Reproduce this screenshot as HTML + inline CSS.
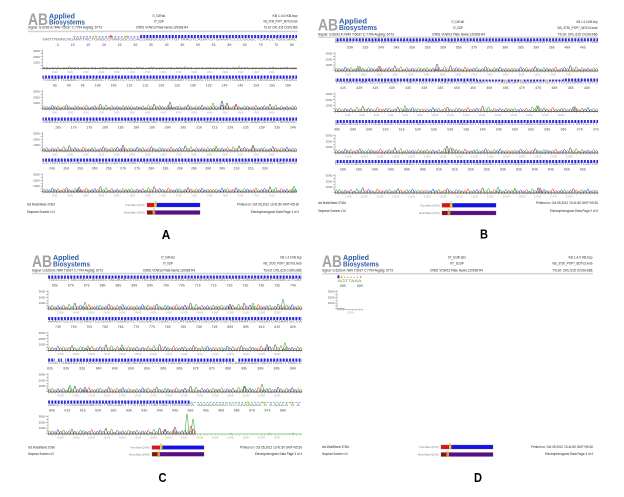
<!DOCTYPE html>
<html><head><meta charset="utf-8">
<style>
html,body{margin:0;padding:0;background:#fff;width:624px;height:497px;overflow:hidden}
svg{display:block}
text{font-family:"Liberation Sans",sans-serif}
.h{font-size:3.3px;fill:#222}
.e{text-anchor:end}
.c{text-anchor:middle}
.logo{font-size:16.5px;font-weight:bold;fill:#a3a3a3}
.ap{font-size:7px;font-weight:bold;fill:#2d5ca8}
.sq{font-size:3.4px;fill:#676767}
.nm{font-family:"Liberation Mono",monospace;font-size:3.3px;fill:#4a4a4a}
.yl{font-size:3px;fill:#555;text-anchor:end}
.tk{font-family:"Liberation Mono",monospace;font-size:2.3px;fill:#a8a8a8}
.qv{font-size:2.4px;fill:#777;text-anchor:end}
.sm{font-size:2px;fill:#777;text-anchor:middle}
.ax{stroke:#666;stroke-width:.35;fill:none}
.yt{stroke:#666;stroke-width:2;stroke-dasharray:.35 2.55;fill:none}
.xt{stroke:#888;stroke-width:1.2;stroke-dasharray:.35 3.2;fill:none}
.tp{fill:none;stroke-width:.5;vector-effect:non-scaling-stroke}
.g{stroke:#1f9a1f}.r{stroke:#e02020}.b{stroke:#2020e0}.k{stroke:#333}
.lab{font-size:13px;font-weight:bold;fill:#000;text-anchor:middle}
.ol{fill:none;stroke:#666;stroke-width:.3}
</style></head>
<body>
<svg width="624" height="497" viewBox="0 0 624 497" xmlns="http://www.w3.org/2000/svg">
<defs>
<pattern id="qb" width="3.17" height="20" patternUnits="userSpaceOnUse"><rect x=".6" width="1.9" height="20" fill="#1f1fe8"/></pattern>
<pattern id="qs" width="3.17" height="20" patternUnits="userSpaceOnUse"><rect x=".6" width="1.5" height="20" fill="#8a8af0"/></pattern>
<g id="tr">
<path class="tp k" d="M0,13 Q1.7,7 3.4,13 L20,13 Q21.7,9 23.4,13 L30,13 Q31.7,1 33.4,13 L40,13 Q41.7,7 43.4,13 L53.3,13 Q55,8 56.7,13 L70,13 Q71.7,3 73.4,13 L83.3,13 Q85,7 86.7,13 L100,13"/>
<path class="tp b" d="M0,13 L10,13 Q11.7,6 13.4,13 Q15,8 16.7,13 L36.6,13 Q38.3,5 40,13 L56.6,13 Q58.3,6 60,13 L66.6,13 Q68.3,7 70,13 L86.6,13 Q88.3,4 90,13 Q91.7,8 93.4,13 L100,13"/>
<path class="tp r" d="M0,13 L6.6,13 Q8.3,8 10,13 L16.6,13 Q18.3,5 20,13 L33.3,13 Q35,7 36.7,13 L46.6,13 Q48.3,4 50,13 Q51.7,7 53.4,13 L73.3,13 Q75,6 76.7,13 Q78.3,8 80,13 L96.6,13 Q98.3,7 100,13"/>
<path class="tp g" d="M0,13 L3.3,13 Q5,5 6.7,13 L23.3,13 Q25,3 26.7,13 Q28.3,7 30,13 L43.3,13 Q45,8 46.7,13 L60,13 Q61.7,5 63.4,13 Q65,8 66.7,13 L80,13 Q81.7,5 83.4,13 L93.3,13 Q95,6 96.7,13 L100,13"/>
</g>
<g id="tri"><use href="#tr"/><use href="#tr" transform="translate(200,0) scale(-1,1)"/><use href="#tr" transform="translate(200,0)"/></g>
<g id="trj"><use href="#tr" transform="translate(100,0) scale(-1,1)"/><use href="#tr" transform="translate(100,0)"/><use href="#tr" transform="translate(300,0) scale(-1,1)"/></g>
<clipPath id="cl4"><rect x="48" y="395" width="148" height="45"/></clipPath>
</defs>

<!-- ================= PANEL A ================= -->
<text class="logo" x="28" y="25" textLength="20" lengthAdjust="spacingAndGlyphs">AB</text>
<text class="ap" x="49" y="18.3" textLength="26" lengthAdjust="spacingAndGlyphs">Applied</text>
<text class="ap" x="49" y="24.6" textLength="36" lengthAdjust="spacingAndGlyphs">Biosystems</text>
<text class="h c" x="159" y="17" textLength="13" lengthAdjust="spacingAndGlyphs">07_S10F.ab1</text>
<text class="h c" x="159" y="22.5" textLength="10" lengthAdjust="spacingAndGlyphs">07_S10F</text>
<text class="h c" x="162" y="28.4" textLength="52" lengthAdjust="spacingAndGlyphs">CW51  VOW13  Plate Name:120928-R4</text>
<text class="h e" x="297.5" y="17" textLength="25" lengthAdjust="spacingAndGlyphs">KB 1.4.0  KB.bcp</text>
<text class="h e" x="297.5" y="22.5" textLength="34" lengthAdjust="spacingAndGlyphs">KB_3730_POP7_BDTv3.mob</text>
<text class="h e" x="297.5" y="28.4" textLength="34" lengthAdjust="spacingAndGlyphs">TS.txt: CRL.615  Cr/20v.666</text>
<text class="h" x="28" y="28.4" textLength="74" lengthAdjust="spacingAndGlyphs">Signal: G:6293 A:7849 T:6037 C:7794 AvgSig: 6773</text>
<rect x="28" y="30.6" width="270" height="1.6" fill="#d4d4d4"/>

<!-- A row 1 b=68.5 -->
<rect x="72" y="36" width="68" height="1.6" fill="url(#qs)"/>
<rect x="95" y="35.3" width="1.6" height="2.3" fill="#f0d000"/><rect x="110" y="35.3" width="1.6" height="2.3" fill="#e04040"/><rect x="126" y="35.3" width="1.6" height="2.3" fill="#f0d000"/>
<rect x="140" y="35" width="157" height="3" fill="url(#qb)"/>
<text class="sq" x="42.5" y="40.7" textLength="254.5" lengthAdjust="spacingAndGlyphs">NNTTNNNCNGNATTNCTGNGCGTANGGCGCACGNGGCGGTTTGTTAAGTCAGATGTGAAATCCCCGGGCTCAACCTGGGAAC</text>
<text class="nm" x="57" y="46" style="word-spacing:9.73px">5 10 15 20 25 30 35 40 45 50 55 60 65 70 75 80</text>
<text class="yl" x="39.8" y="52.2">3000</text><text class="yl" x="39.8" y="57.9">2000</text><text class="yl" x="39.8" y="63.7">1000</text>
<line class="yt" x1="41.5" y1="68.5" x2="41.5" y2="49.5"/><line class="ax" x1="42.5" y1="49.5" x2="42.5" y2="68.5"/>
<line class="xt" x1="42.5" y1="69.5" x2="297" y2="69.5"/>
<text class="tk" x="52" y="72.8" style="word-spacing:8.6px">1900 2000 2100 2200 2300 2400 2500 2600 2700 2800 2900 3000 3100 3200 3300</text>
<use href="#tri" transform="translate(42.5,68.5) scale(0.848,0.3) translate(0,-13)"/>

<!-- A row 2 b=109 -->
<rect x="42.5" y="75.5" width="254.5" height="3" fill="url(#qb)"/>
<text class="sq" x="42.5" y="81.2" textLength="254.5" lengthAdjust="spacingAndGlyphs">TGCATTTGAAACTGGCAAGCTTGAGTCTCGTAGAGGGGGGTAGAATTCCAGGTGTAGCGGTGAAATGCGTAGAGATCTGGAG</text>
<text class="nm" x="53" y="86.5" style="word-spacing:7.95px">85 90 95 100 105 110 115 120 125 130 135 140 145 150 155 160</text>
<text class="yl" x="39.8" y="92.7">3000</text><text class="yl" x="39.8" y="98.4">2000</text><text class="yl" x="39.8" y="104.2">1000</text>
<line class="yt" x1="41.5" y1="109" x2="41.5" y2="90"/><line class="ax" x1="42.5" y1="90" x2="42.5" y2="109"/>
<line class="xt" x1="42.5" y1="110" x2="297" y2="110"/>
<text class="tk" x="52" y="113.3" style="word-spacing:8.6px">3400 3500 3600 3700 3800 3900 4000 4100 4200 4300 4400 4500 4600 4700 4800</text>
<use href="#trj" transform="translate(42.5,109) scale(0.848,0.85) translate(0,-13)"/>
<path class="tp k" d="M168.4,109 Q170,95 171.6,109 M220.4,109 Q222,93 223.6,109 M225.4,109 Q227,97 228.6,109"/>
<path class="tp g" d="M211.4,109 Q213,97 214.6,109"/>
<path class="tp r" d="M234.4,109 Q236,99 237.6,109"/>

<!-- A row 3 b=151 -->
<rect x="42.5" y="117.5" width="254.5" height="3" fill="url(#qb)"/>
<text class="sq" x="42.5" y="123.2" textLength="254.5" lengthAdjust="spacingAndGlyphs">GAATACCGGTGGCGAAGGCGGCCCCCTGGACGAAGACTGACGCTCAGGTGCGAAAGCGTGGGGAGCAAACAGGATTAGATAC</text>
<text class="nm" x="55" y="128.5" style="word-spacing:7.75px">165 170 175 180 185 190 195 200 205 210 215 220 225 230 235 240</text>
<text class="yl" x="39.8" y="134.7">3000</text><text class="yl" x="39.8" y="140.4">2000</text><text class="yl" x="39.8" y="146.2">1000</text>
<line class="yt" x1="41.5" y1="151" x2="41.5" y2="132"/><line class="ax" x1="42.5" y1="132" x2="42.5" y2="151"/>
<line class="xt" x1="42.5" y1="152" x2="297" y2="152"/>
<text class="tk" x="52" y="155.3" style="word-spacing:8.6px">4900 5000 5100 5200 5300 5400 5500 5600 5700 5800 5900 6000 6100 6200 6300</text>
<use href="#tri" transform="translate(42.5,151) scale(0.848,0.9) translate(0,-13)"/>
<path class="tp k" d="M121.4,151 Q123,139 124.6,151 M251.4,151 Q253,139 254.6,151"/>
<path class="tp g" d="M214.4,151 Q216,141 217.6,151"/>

<!-- A row 4 b=192 -->
<rect x="42.5" y="158.5" width="254.5" height="3" fill="url(#qb)"/>
<text class="sq" x="42.5" y="164.2" textLength="254.5" lengthAdjust="spacingAndGlyphs">CCTGGTAGTCCACGCCGTAAACGATGTCGACTTGGAGGTTGTGCCCTTGAGGCGTGGCTTCCGGAGCTAACGCGTTAAGTCG</text>
<text class="nm" x="49" y="169.5" style="word-spacing:6.28px">245 250 255 260 265 270 275 280 285 290 295 300 305 310 315 320</text>
<text class="yl" x="39.8" y="175.7">3000</text><text class="yl" x="39.8" y="181.4">2000</text><text class="yl" x="39.8" y="187.2">1000</text>
<line class="yt" x1="41.5" y1="192" x2="41.5" y2="173"/><line class="ax" x1="42.5" y1="173" x2="42.5" y2="192"/>
<line class="xt" x1="42.5" y1="193" x2="297" y2="193"/>
<text class="tk" x="52" y="196.3" style="word-spacing:8.6px">6400 6500 6600 6700 6800 6900 7000 7100 7200 7300 7400 7500 7600 7700 7800</text>
<use href="#trj" transform="translate(42.5,192) scale(0.848,0.9) translate(0,-13)"/>
<path class="tp k" d="M77.4,192 Q79,182 80.6,192"/>
<path class="tp g" d="M292.4,192 Q294,180 295.6,192"/>

<!-- A footer -->
<text class="h" x="27" y="205.3" textLength="28" lengthAdjust="spacingAndGlyphs">Inst Model/Name 3730xl</text>
<text class="h" x="27" y="212.8" textLength="28" lengthAdjust="spacingAndGlyphs">Sequence Scanner v1.0</text>
<text class="qv" x="144.5" y="206.2">Pure Base QV(%)</text>
<text class="qv" x="144.5" y="213.7">Mixed Base QV(%)</text>
<text class="sm" x="155.5" y="202.4">20</text>
<rect x="147" y="203" width="7.3" height="4" fill="#e81010"/><rect x="154.3" y="203" width="2.4" height="4" fill="#f5d000"/><rect x="156.7" y="203" width="43.3" height="4" fill="#1212ee"/><rect class="ol" x="147" y="203" width="53" height="4"/>
<text class="sm" x="153.9" y="209.9">14</text>
<rect x="147" y="210.5" width="5.7" height="4" fill="#8a0f0f"/><rect x="152.7" y="210.5" width="2.4" height="4" fill="#e09a18"/><rect x="155.1" y="210.5" width="44.9" height="4" fill="#5a0c8c"/><rect class="ol" x="147" y="210.5" width="53" height="4"/>
<text class="h e" x="299" y="205.3" textLength="62" lengthAdjust="spacingAndGlyphs">Printed on: Oct 05,2012 13:41:50 GMT+05:30</text>
<text class="h e" x="299" y="212.8" textLength="48" lengthAdjust="spacingAndGlyphs">Electropherogram Data Page 1 of 4</text>
<text class="lab" x="166" y="239" textLength="8.5" lengthAdjust="spacingAndGlyphs">A</text>

<!-- ================= PANEL B ================= -->
<text class="logo" x="318" y="30.3" textLength="20" lengthAdjust="spacingAndGlyphs">AB</text>
<text class="ap" x="339" y="23.6" textLength="28" lengthAdjust="spacingAndGlyphs">Applied</text>
<text class="ap" x="339" y="29.9" textLength="38" lengthAdjust="spacingAndGlyphs">Biosystems</text>
<text class="h c" x="458" y="23" textLength="13" lengthAdjust="spacingAndGlyphs">07_S10F.ab1</text>
<text class="h c" x="458" y="29" textLength="10" lengthAdjust="spacingAndGlyphs">07_S10F</text>
<text class="h c" x="458.5" y="35.3" textLength="53" lengthAdjust="spacingAndGlyphs">CW51  VOW13  Plate Name:120928-R4</text>
<text class="h e" x="597.5" y="23" textLength="21" lengthAdjust="spacingAndGlyphs">KB 1.4.0  KB.bcp</text>
<text class="h e" x="597.5" y="29" textLength="40" lengthAdjust="spacingAndGlyphs">KB_3730_POP7_BDTv3.mob</text>
<text class="h e" x="597.5" y="35.3" textLength="40" lengthAdjust="spacingAndGlyphs">TS.txt: CRL.615  Cr/20v.666</text>
<text class="h" x="318" y="35.3" textLength="76" lengthAdjust="spacingAndGlyphs">Signal: G:6293 A:7849 T:6037 C:7794 AvgSig: 6773</text>
<rect x="318" y="36.6" width="280" height="1.3" fill="#d4d4d4"/>

<!-- B row 1 b=71 -->
<rect x="335" y="38.3" width="263" height="3" fill="url(#qb)"/>
<text class="sq" x="335" y="43.2" textLength="263" lengthAdjust="spacingAndGlyphs">ACCGCCTGGGGAGTACGGCCGCAAGGTTAAAACTCAAATGAATTGACGGGGGCCCGCACAAGCGGTGGAGCATGTGGTTTAA</text>
<text class="nm" x="347" y="48.5" style="word-spacing:7.61px">330 335 340 345 350 355 360 365 370 375 380 385 390 395 400 405</text>
<text class="yl" x="332.3" y="54.7">3000</text><text class="yl" x="332.3" y="60.4">2000</text><text class="yl" x="332.3" y="66.2">1000</text>
<line class="yt" x1="334" y1="71" x2="334" y2="52"/><line class="ax" x1="335" y1="52" x2="335" y2="71"/>
<line class="xt" x1="335" y1="72" x2="598" y2="72"/>
<text class="tk" x="345" y="75.3" style="word-spacing:8.9px">7900 8000 8100 8200 8300 8400 8500 8600 8700 8800 8900 9000 9100 9200 9300</text>
<use href="#trj" transform="translate(335,71) scale(0.877,0.9) translate(0,-13)"/>
<path class="tp k" d="M435.4,71 Q437,57 438.6,71 M377.4,71 Q379,61 380.6,71"/>
<path class="tp g" d="M356.4,71 Q358,61 359.6,71"/>

<!-- B row 2 b=111.5 -->
<rect x="335" y="78.5" width="142" height="3" fill="url(#qb)"/>
<rect x="477" y="79.5" width="86" height="2" fill="url(#qb)"/>
<rect x="505" y="79.5" width="1.6" height="2" fill="#f0d000"/><rect x="521" y="79.5" width="1.6" height="2" fill="#f0d000"/><rect x="546" y="79.5" width="1.6" height="2" fill="#f0d000"/>
<rect x="563" y="78.5" width="35" height="3" fill="url(#qb)"/>
<text class="sq" x="335" y="83.7" textLength="263" lengthAdjust="spacingAndGlyphs">TTCGATGCAACGCGAAGAACCTTACCTGGTCTTGACATCCACGGAAGTTTTCAGAGATGAGAATGTGCCTTCGGGAACCGTG</text>
<text class="nm" x="340" y="89" style="word-spacing:8.35px">415 420 425 430 435 440 445 450 455 460 465 470 475 480 485 490</text>
<text class="yl" x="332.3" y="95.2">3000</text><text class="yl" x="332.3" y="100.9">2000</text><text class="yl" x="332.3" y="106.7">1000</text>
<line class="yt" x1="334" y1="111.5" x2="334" y2="92.5"/><line class="ax" x1="335" y1="92.5" x2="335" y2="111.5"/>
<line class="xt" x1="335" y1="112.5" x2="598" y2="112.5"/>
<text class="tk" x="345" y="115.8" style="word-spacing:7.5px">9400 9500 9600 9700 9800 9900 10000 10100 10200 10300 10400 10500 10600 10700 10800</text>
<use href="#tri" transform="translate(335,111.5) scale(0.877,0.9) translate(0,-13)"/>
<path class="tp g" d="M403.4,111.5 Q405,99.5 406.6,111.5 M535.4,111.5 Q537,99.5 538.6,111.5"/>
<path class="tp k" d="M573.4,111.5 Q575,101.5 576.6,111.5"/>

<!-- B row 3 b=153 -->
<rect x="335" y="120" width="263" height="3" fill="url(#qb)"/>
<text class="sq" x="335" y="125.2" textLength="263" lengthAdjust="spacingAndGlyphs">AGACAGGTGCTGCATGGCTGTCGTCAGCTCGTGTTGTGAAATGTTGGGTTAAGTCCCGCAACGAGCGCAACCCTTATCCTTT</text>
<text class="nm" x="334" y="130.5" style="word-spacing:8.27px">495 500 505 510 515 520 525 530 535 540 545 550 555 560 565 570 575</text>
<text class="yl" x="332.3" y="136.7">3000</text><text class="yl" x="332.3" y="142.4">2000</text><text class="yl" x="332.3" y="148.2">1000</text>
<line class="yt" x1="334" y1="153" x2="334" y2="134"/><line class="ax" x1="335" y1="134" x2="335" y2="153"/>
<line class="xt" x1="335" y1="154" x2="598" y2="154"/>
<text class="tk" x="345" y="157.3" style="word-spacing:7.5px">10900 11000 11100 11200 11300 11400 11500 11600 11700 11800 11900 12000 12100 12200 12300</text>
<use href="#trj" transform="translate(335,153) scale(0.877,0.9) translate(0,-13)"/>
<path class="tp k" d="M445.4,153 Q447,139 448.6,153"/>
<path class="tp g" d="M451.4,153 Q453,143 454.6,153"/>

<!-- B row 4 b=193 -->
<rect x="335" y="160" width="263" height="3" fill="url(#qb)"/>
<text class="sq" x="335" y="165.2" textLength="263" lengthAdjust="spacingAndGlyphs">GTTGCCAGCGGTCCGGCCGGGAACTCAAAGGAGACTGCCAGTGATAAACTGGAGGAAGGTGGGGATGACGTCAAGTCATCA</text>
<text class="nm" x="340" y="170.5" style="word-spacing:8.08px">580 585 590 595 600 605 610 615 620 625 630 635 640 645 650 655</text>
<text class="yl" x="332.3" y="176.7">3000</text><text class="yl" x="332.3" y="182.4">2000</text><text class="yl" x="332.3" y="188.2">1000</text>
<line class="yt" x1="334" y1="193" x2="334" y2="174"/><line class="ax" x1="335" y1="174" x2="335" y2="193"/>
<line class="xt" x1="335" y1="194" x2="598" y2="194"/>
<text class="tk" x="345" y="197.3" style="word-spacing:7.5px">12400 12500 12600 12700 12800 12900 13000 13100 13200 13300 13400 13500 13600 13700 13800</text>
<use href="#tri" transform="translate(335,193) scale(0.877,0.9) translate(0,-13)"/>
<path class="tp g" d="M496.4,193 Q498,181 499.6,193 M513.4,193 Q515,183 516.6,193"/>
<path class="tp k" d="M538.4,193 Q540,183 541.6,193"/>

<!-- B footer -->
<text class="h" x="318" y="204.2" textLength="28" lengthAdjust="spacingAndGlyphs">Inst Model/Name 3730xl</text>
<text class="h" x="318" y="212.2" textLength="28" lengthAdjust="spacingAndGlyphs">Sequence Scanner v1.0</text>
<text class="qv" x="439.5" y="206.5">Pure Base QV(%)</text>
<text class="qv" x="439.5" y="214.2">Mixed Base QV(%)</text>
<text class="sm" x="451.2" y="202.7">20</text>
<rect x="442" y="203.3" width="8" height="4" fill="#e81010"/><rect x="450" y="203.3" width="2.4" height="4" fill="#f5d000"/><rect x="452.4" y="203.3" width="43.6" height="4" fill="#1212ee"/><rect class="ol" x="442" y="203.3" width="54" height="4"/>
<text class="sm" x="449" y="210.4">14</text>
<rect x="442" y="211" width="5.8" height="4" fill="#8a0f0f"/><rect x="447.8" y="211" width="2.4" height="4" fill="#e09a18"/><rect x="450.2" y="211" width="45.8" height="4" fill="#5a0c8c"/><rect class="ol" x="442" y="211" width="54" height="4"/>
<text class="h e" x="598" y="204.2" textLength="62" lengthAdjust="spacingAndGlyphs">Printed on: Oct 05,2012 13:41:50 GMT+05:30</text>
<text class="h e" x="598" y="212.2" textLength="48" lengthAdjust="spacingAndGlyphs">Electropherogram Data Page 2 of 4</text>
<text class="lab" x="484" y="238.5" textLength="8" lengthAdjust="spacingAndGlyphs">B</text>

<!-- ================= PANEL C ================= -->
<text class="logo" x="32" y="267" textLength="20" lengthAdjust="spacingAndGlyphs">AB</text>
<text class="ap" x="53" y="260.1" textLength="26" lengthAdjust="spacingAndGlyphs">Applied</text>
<text class="ap" x="53" y="266.4" textLength="37" lengthAdjust="spacingAndGlyphs">Biosystems</text>
<text class="h c" x="168" y="258.3" textLength="14" lengthAdjust="spacingAndGlyphs">07_S10F.ab1</text>
<text class="h c" x="168" y="264.3" textLength="10" lengthAdjust="spacingAndGlyphs">07_S10F</text>
<text class="h c" x="169" y="271.3" textLength="52" lengthAdjust="spacingAndGlyphs">CW51  VOW13  Plate Name:120928-R4</text>
<text class="h e" x="301.5" y="258.3" textLength="21" lengthAdjust="spacingAndGlyphs">KB 1.4.0  KB.bcp</text>
<text class="h e" x="301.5" y="264.3" textLength="38" lengthAdjust="spacingAndGlyphs">KB_3730_POP7_BDTv3.mob</text>
<text class="h e" x="301.5" y="271.3" textLength="38" lengthAdjust="spacingAndGlyphs">TS.txt: CRL.615  Cr/20v.666</text>
<text class="h" x="32" y="271.3" textLength="71" lengthAdjust="spacingAndGlyphs">Signal: G:6293 A:7849 T:6037 C:7794 AvgSig: 6773</text>
<rect x="32" y="272.8" width="270" height="1.5" fill="#d4d4d4"/>

<!-- C row 1 b=309 -->
<rect x="48" y="275.5" width="254" height="3" fill="url(#qb)"/>
<text class="sq" x="48" y="281.2" textLength="254" lengthAdjust="spacingAndGlyphs">TGGCCCTTACGACCAGGGCTACACACGTGCTACAATGGCGCATACAAAGAGAAGCGACCTCGCGAGAGCAAGCGGACCTCAT</text>
<text class="nm" x="52" y="286.5" style="word-spacing:7.95px">665 670 675 680 685 690 695 700 705 710 715 720 725 730 735 740</text>
<text class="yl" x="45.3" y="292.7">3000</text><text class="yl" x="45.3" y="298.4">2000</text><text class="yl" x="45.3" y="304.2">1000</text>
<line class="yt" x1="47" y1="309" x2="47" y2="290"/><line class="ax" x1="48" y1="290" x2="48" y2="309"/>
<line class="xt" x1="48" y1="310" x2="302" y2="310"/>
<text class="tk" x="57" y="313.3" style="word-spacing:7.2px">13900 14000 14100 14200 14300 14400 14500 14600 14700 14800 14900 15000 15100 15200 15300</text>
<use href="#tri" transform="translate(48,309) scale(0.847,1) translate(0,-13)"/>
<path class="tp g" d="M83.4,309 Q85,295 86.6,309 M281.4,309 Q283,289 284.6,309 M251.4,309 Q253,297 254.6,309"/>
<path class="tp k" d="M228.4,309 Q230,299 231.6,309"/>

<!-- C row 2 b=350.5 -->
<rect x="48" y="317" width="254" height="3" fill="url(#qb)"/>
<text class="sq" x="48" y="322.7" textLength="254" lengthAdjust="spacingAndGlyphs">AAAGTGCGTCGTAGTCCGGATTGGAGTCTGCAACTCGACTCCATGAAGTCGGAATCGCTAGTAATCGTGGATCAGAATGCCA</text>
<text class="nm" x="55" y="328" style="word-spacing:7.75px">745 750 755 760 765 770 775 780 785 790 795 800 805 810 815 820</text>
<text class="yl" x="45.3" y="334.2">3000</text><text class="yl" x="45.3" y="339.9">2000</text><text class="yl" x="45.3" y="345.7">1000</text>
<line class="yt" x1="47" y1="350.5" x2="47" y2="331.5"/><line class="ax" x1="48" y1="331.5" x2="48" y2="350.5"/>
<line class="xt" x1="48" y1="351.5" x2="302" y2="351.5"/>
<text class="tk" x="57" y="354.8" style="word-spacing:7.2px">15400 15500 15600 15700 15800 15900 16000 16100 16200 16300 16400 16500 16600 16700 16800</text>
<use href="#trj" transform="translate(48,350.5) scale(0.847,1) translate(0,-13)"/>
<path class="tp g" d="M86.4,350.5 Q88,340.5 89.6,350.5 M120.4,350.5 Q122,338.5 123.6,350.5 M283.4,350.5 Q285,334.5 286.6,350.5"/>
<path class="tp k" d="M265.4,350.5 Q267,338.5 268.6,350.5"/>

<!-- C row 3 b=392 -->
<rect x="48" y="358.5" width="254" height="3" fill="url(#qb)"/>
<rect x="55" y="358.5" width="3.2" height="3" fill="#fff"/><rect x="62" y="358.5" width="3.2" height="3" fill="#fff"/><rect x="235" y="358.5" width="3.2" height="3" fill="#fff"/>
<text class="sq" x="48" y="364.2" textLength="254" lengthAdjust="spacingAndGlyphs">CGGTGAATACGTTCCCGGGCCTTGTACACACCGCCCGTCACACCATGGGAGTGGGTTGCAAAAGAAGTAGGTAGCTTAACC</text>
<text class="nm" x="47" y="369.5" style="word-spacing:8.28px">825 830 835 840 845 850 855 860 865 870 875 880 885 890 895 900</text>
<text class="yl" x="45.3" y="375.7">3000</text><text class="yl" x="45.3" y="381.4">2000</text><text class="yl" x="45.3" y="387.2">1000</text>
<line class="yt" x1="47" y1="392" x2="47" y2="373"/><line class="ax" x1="48" y1="373" x2="48" y2="392"/>
<line class="xt" x1="48" y1="393" x2="302" y2="393"/>
<text class="tk" x="57" y="396.3" style="word-spacing:7.2px">16900 17000 17100 17200 17300 17400 17500 17600 17700 17800 17900 18000 18100 18200 18300</text>
<use href="#tri" transform="translate(48,392) scale(0.847,1) translate(0,-13)"/>
<path class="tp g" d="M68.4,392 Q70,378 71.6,392 M260.4,392 Q262,376 263.6,392 M243.4,392 Q245,380 246.6,392"/>
<path class="tp k" d="M83.4,392 Q85,382 86.6,392"/>

<!-- C row 4 b=434 -->
<rect x="48" y="400.5" width="142" height="3" fill="url(#qb)"/>
<rect x="190" y="402" width="112" height="1" fill="url(#qs)"/>
<rect x="247" y="401.5" width="1.6" height="2" fill="#f0d000"/><rect x="290" y="401.5" width="1.6" height="2" fill="#f0d000"/><rect x="262" y="401.5" width="1.6" height="2" fill="#f0d000"/>
<text class="sq" x="48" y="406.2" textLength="146" lengthAdjust="spacingAndGlyphs">AACCTTCGGGAGGACGCTTACCACTTTGTGATTCATGACTGGGGATA</text>
<text class="sq" x="197" y="406.2" textLength="103" lengthAdjust="spacingAndGlyphs" style="fill:#4a9a4a" xml:space="preserve">AAAAAAAACGCGAAAAAA  A  A AAA A  A  A</text>
<text class="nm" x="49" y="411.5" style="word-spacing:7.48px">905 910 915 920 925 930 935 940 945 950 955 960 965 970 975 980</text>
<text class="yl" x="45.3" y="417.7">3000</text><text class="yl" x="45.3" y="423.4">2000</text><text class="yl" x="45.3" y="429.2">1000</text>
<line class="yt" x1="47" y1="434" x2="47" y2="415"/><line class="ax" x1="48" y1="415" x2="48" y2="434"/>
<line class="xt" x1="48" y1="435" x2="302" y2="435"/>
<text class="tk" x="57" y="438.3" style="word-spacing:7.2px">18400 18500 18600 18700 18800 18900 19000 19100 19200 19300 19400 19500 19600 19700 19800</text>
<g clip-path="url(#cl4)"><use href="#trj" transform="translate(48,434) scale(0.847,1) translate(0,-13)"/></g>
<path class="tp g" d="M185.4,434 Q187,394 188.6,434 M191.4,434 Q193,404 194.6,434"/>
<path class="tp r" d="M189.4,434 Q191,418 192.6,434"/>
<path class="tp k" d="M173.4,434 Q175,420 176.6,434 M163.4,434 Q165,424 166.6,434"/>
<path class="tp g" d="M196,434 L302,434"/>
<path class="tp g" d="M230,434 Q231,432.5 232,434 M268,434 Q269,432.6 270,434 M292,434 Q293,432.4 294,434"/>

<!-- C footer -->
<text class="h" x="28" y="448.6" textLength="27" lengthAdjust="spacingAndGlyphs">Inst Model/Name 3730xl</text>
<text class="h" x="28" y="455.2" textLength="26" lengthAdjust="spacingAndGlyphs">Sequence Scanner v1.0</text>
<text class="qv" x="149.5" y="448.6">Pure Base QV(%)</text>
<text class="qv" x="149.5" y="455.5">Mixed Base QV(%)</text>
<text class="sm" x="161" y="445">20</text>
<rect x="152" y="445.6" width="8" height="3.8" fill="#e81010"/><rect x="160" y="445.6" width="2.3" height="3.8" fill="#f5d000"/><rect x="162.3" y="445.6" width="41.7" height="3.8" fill="#1212ee"/><rect class="ol" x="152" y="445.6" width="52" height="3.8"/>
<text class="sm" x="158.5" y="451.6">14</text>
<rect x="152" y="452.2" width="5.6" height="4" fill="#8a0f0f"/><rect x="157.6" y="452.2" width="2.4" height="4" fill="#e09a18"/><rect x="160" y="452.2" width="44" height="4" fill="#5a0c8c"/><rect class="ol" x="152" y="452.2" width="52" height="4"/>
<text class="h e" x="302" y="448.6" textLength="62" lengthAdjust="spacingAndGlyphs">Printed on: Oct 05,2012 13:41:50 GMT+05:30</text>
<text class="h e" x="302" y="455.2" textLength="47" lengthAdjust="spacingAndGlyphs">Electropherogram Data Page 3 of 4</text>
<text class="lab" x="162.5" y="482" textLength="8" lengthAdjust="spacingAndGlyphs">C</text>

<!-- ================= PANEL D ================= -->
<text class="logo" x="322" y="267" textLength="20" lengthAdjust="spacingAndGlyphs">AB</text>
<text class="ap" x="343" y="260.1" textLength="26" lengthAdjust="spacingAndGlyphs">Applied</text>
<text class="ap" x="343" y="266.4" textLength="36" lengthAdjust="spacingAndGlyphs">Biosystems</text>
<text class="h c" x="457" y="258.3" textLength="18" lengthAdjust="spacingAndGlyphs">07_S10F.ab1</text>
<text class="h c" x="457" y="264.3" textLength="14" lengthAdjust="spacingAndGlyphs">07_S10F</text>
<text class="h c" x="456.5" y="271.5" textLength="53" lengthAdjust="spacingAndGlyphs">CW51  VOW13  Plate Name:120928-R4</text>
<text class="h e" x="592.5" y="258.3" textLength="24" lengthAdjust="spacingAndGlyphs">KB 1.4.0  KB.bcp</text>
<text class="h e" x="592.5" y="264.3" textLength="40" lengthAdjust="spacingAndGlyphs">KB_3730_POP7_BDTv3.mob</text>
<text class="h e" x="592.5" y="271.5" textLength="40" lengthAdjust="spacingAndGlyphs">TS.txt: CRL.615  Cr/20v.666</text>
<text class="h" x="322" y="271.5" textLength="71" lengthAdjust="spacingAndGlyphs">Signal: G:6293 A:7849 T:6037 C:7794 AvgSig: 6773</text>
<rect x="322" y="272.9" width="271" height="1.5" fill="#d4d4d4"/>

<!-- D row b=309 -->
<rect x="337.5" y="275.3" width="1.9" height="3" fill="#1f1fe8"/>
<rect x="340.6" y="275.8" width="1.9" height="2.5" fill="#f0d000"/>
<rect x="344" y="276.8" width="1.2" height="1" fill="#e66"/><rect x="347.2" y="276.8" width="1.2" height="1" fill="#e66"/><rect x="350.4" y="276.8" width="1.2" height="1" fill="#e66"/><rect x="353.6" y="276.8" width="1.2" height="1" fill="#e66"/><rect x="356.8" y="276.8" width="1.2" height="1" fill="#e66"/><rect x="360" y="276.3" width="1.2" height="1.5" fill="#e66"/>
<text class="sq" x="337.5" y="281.8" textLength="24" lengthAdjust="spacingAndGlyphs" style="fill:#4a9a4a">AGTTAAA</text>
<text class="nm c" x="343" y="286.8">985</text>
<text class="nm c" x="360" y="286.8">990</text>
<text class="yl" x="334.5" y="292.7">3000</text><text class="yl" x="334.5" y="298.4">2000</text><text class="yl" x="334.5" y="304.2">1000</text>
<line class="yt" x1="336" y1="309" x2="336" y2="290"/><line class="ax" x1="337" y1="290" x2="337" y2="309"/>
<line class="ax" x1="337" y1="309.3" x2="363" y2="309.3"/>
<line class="xt" x1="337" y1="310.2" x2="363" y2="310.2" style="stroke-dasharray:.35 2.8"/>
<text class="tk" x="347" y="313.5">10000</text>
<path class="tp g" d="M337,309 L341,308.6 L345,309"/>

<!-- D footer -->
<text class="h" x="322" y="448" textLength="27" lengthAdjust="spacingAndGlyphs">Inst Model/Name 3730xl</text>
<text class="h" x="322" y="455" textLength="26" lengthAdjust="spacingAndGlyphs">Sequence Scanner v1.0</text>
<text class="qv" x="438.5" y="448">Pure Base QV(%)</text>
<text class="qv" x="438.5" y="455.6">Mixed Base QV(%)</text>
<text class="sm" x="450" y="444.4">20</text>
<rect x="441" y="445" width="8" height="4" fill="#e81010"/><rect x="449" y="445" width="2.3" height="4" fill="#f5d000"/><rect x="451.3" y="445" width="41.7" height="4" fill="#1212ee"/><rect class="ol" x="441" y="445" width="52" height="4"/>
<text class="sm" x="447.5" y="451.9">14</text>
<rect x="441" y="452.5" width="5.6" height="4" fill="#8a0f0f"/><rect x="446.6" y="452.5" width="2.4" height="4" fill="#e09a18"/><rect x="449" y="452.5" width="44" height="4" fill="#5a0c8c"/><rect class="ol" x="441" y="452.5" width="52" height="4"/>
<text class="h e" x="593" y="448" textLength="62" lengthAdjust="spacingAndGlyphs">Printed on: Oct 05,2012 13:41:50 GMT+05:30</text>
<text class="h e" x="593" y="455" textLength="48" lengthAdjust="spacingAndGlyphs">Electropherogram Data Page 4 of 4</text>
<text class="lab" x="478" y="482" textLength="8" lengthAdjust="spacingAndGlyphs">D</text>
</svg>
</body></html>
